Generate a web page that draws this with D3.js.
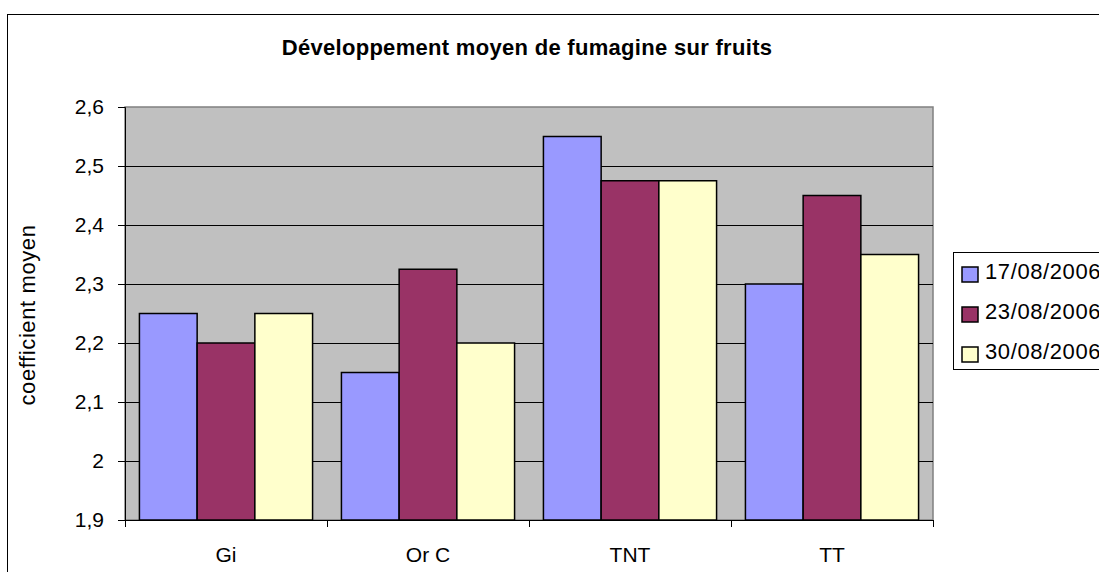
<!DOCTYPE html>
<html>
<head>
<meta charset="utf-8">
<script src="https://cdn.jsdelivr.net/npm/d3@7"></script>
<style>
  body { margin: 0; background: #fff; }
  svg { font-family: "Liberation Sans", Arial, sans-serif; }
</style>
</head>
<body>
<div id="chart"></div>
<script>
var categories = ["Gi", "Or C", "TNT", "TT"]
var seriesNames = ["17/08/2006", "23/08/2006", "30/08/2006"]
var seriesColors = ["#9999FF", "#993366", "#FFFFCC"]
var values = [
  [2.25, 2.15, 2.55, 2.30],
  [2.20, 2.325, 2.475, 2.45],
  [2.25, 2.20, 2.475, 2.35]
]
var yTicks = [1.9, 2, 2.1, 2.2, 2.3, 2.4, 2.5, 2.6]

var W = 1099, H = 572
var plot = {left: 125, top: 107, right: 933, bottom: 520}

var svg = d3.select("#chart").append("svg")
  .attr("width", W).attr("height", H)

// outer chart border (runs off the page on the right and bottom)
svg.append("rect")
  .attr("x", 7.5).attr("y", 14.5)
  .attr("width", W + 20).attr("height", H + 20)
  .attr("fill", "#fff").attr("stroke", "#000").attr("stroke-width", 1)

svg.append("text")
  .attr("x", 527).attr("y", 55)
  .attr("text-anchor", "middle")
  .attr("font-size", 22).attr("font-weight", "bold")
  .attr("letter-spacing", 0.3)
  .text("Développement moyen de fumagine sur fruits")

var x0 = d3.scaleBand().domain(categories).range([plot.left, plot.right]).paddingInner(0).paddingOuter(0)
var x1 = d3.scaleBand().domain(d3.range(seriesNames.length)).range([0, x0.bandwidth()]).paddingInner(0).paddingOuter(0.25)
var y = d3.scaleLinear().domain([1.9, 2.6]).range([plot.bottom, plot.top])

svg.append("rect")
  .attr("x", plot.left).attr("y", plot.top)
  .attr("width", plot.right - plot.left).attr("height", plot.bottom - plot.top)
  .attr("fill", "#C0C0C0").attr("stroke", "#808080").attr("stroke-width", 1.5)

svg.append("g").selectAll("line")
  .data(yTicks.slice(1, -1))
  .enter().append("line")
  .attr("x1", plot.left).attr("x2", plot.right)
  .attr("y1", d => Math.round(y(d)) + 0.5).attr("y2", d => Math.round(y(d)) + 0.5)
  .attr("stroke", "#000").attr("stroke-width", 1)

var groups = svg.append("g").selectAll("g")
  .data(seriesNames)
  .enter().append("g")
  .attr("fill", (d, i) => seriesColors[i])

groups.selectAll("rect")
  .data((d, i) => values[i].map(v => ({s: i, v: v})))
  .enter().append("rect")
  .attr("x", (d, j) => x0(categories[j]) + x1(d.s))
  .attr("width", x1.bandwidth())
  .attr("y", d => y(d.v))
  .attr("height", d => y(1.9) - y(d.v))
  .attr("stroke", "#000").attr("stroke-width", 1.5)

// axes
var yAxis = d3.axisLeft(y).tickValues(yTicks).tickSize(7).tickPadding(14)
  .tickFormat(d => String(+d.toFixed(1)).replace(".", ","))
var gy = svg.append("g").attr("transform", "translate(" + plot.left + ",0)").call(yAxis)
gy.attr("font-size", null).attr("font-family", null)
gy.select(".domain").attr("stroke", "#000")
gy.selectAll("text").attr("font-size", 21).attr("fill", "#000")

var gx = svg.append("g").attr("transform", "translate(0," + plot.bottom + ")")
gx.append("line").attr("x1", plot.left).attr("x2", plot.right)
  .attr("y1", 0.5).attr("y2", 0.5).attr("stroke", "#000")
gx.selectAll(".tk")
  .data(d3.range(categories.length + 1))
  .enter().append("line")
  .attr("x1", i => plot.left + i * x0.bandwidth() + 0.5)
  .attr("x2", i => plot.left + i * x0.bandwidth() + 0.5)
  .attr("y1", 0).attr("y2", 7).attr("stroke", "#000")
gx.selectAll("text")
  .data(categories)
  .enter().append("text")
  .attr("x", d => x0(d) + x0.bandwidth() / 2)
  .attr("y", 42)
  .attr("text-anchor", "middle").attr("font-size", 21)
  .text(d => d)

svg.append("text")
  .attr("transform", "translate(35," + 315 + ") rotate(-90)")
  .attr("text-anchor", "middle").attr("font-size", 22)
  .attr("letter-spacing", 0.6)
  .text("coefficient moyen")

// legend
var legend = svg.append("g")
legend.append("rect")
  .attr("x", 953.5).attr("y", 252.5).attr("width", 200).attr("height", 117)
  .attr("fill", "#fff").attr("stroke", "#000").attr("stroke-width", 1)
var items = legend.selectAll(".item")
  .data(seriesNames)
  .enter().append("g")
  .attr("transform", (d, i) => "translate(962," + (267 + i * 40) + ")")
items.append("rect")
  .attr("width", 16).attr("height", 15)
  .attr("fill", (d, i) => seriesColors[i])
  .attr("stroke", "#000").attr("stroke-width", 1.5)
items.append("text")
  .attr("x", 23).attr("y", 12)
  .attr("font-size", 22)
  .attr("letter-spacing", 0.6)
  .text(d => d)
</script>
</body>
</html>
